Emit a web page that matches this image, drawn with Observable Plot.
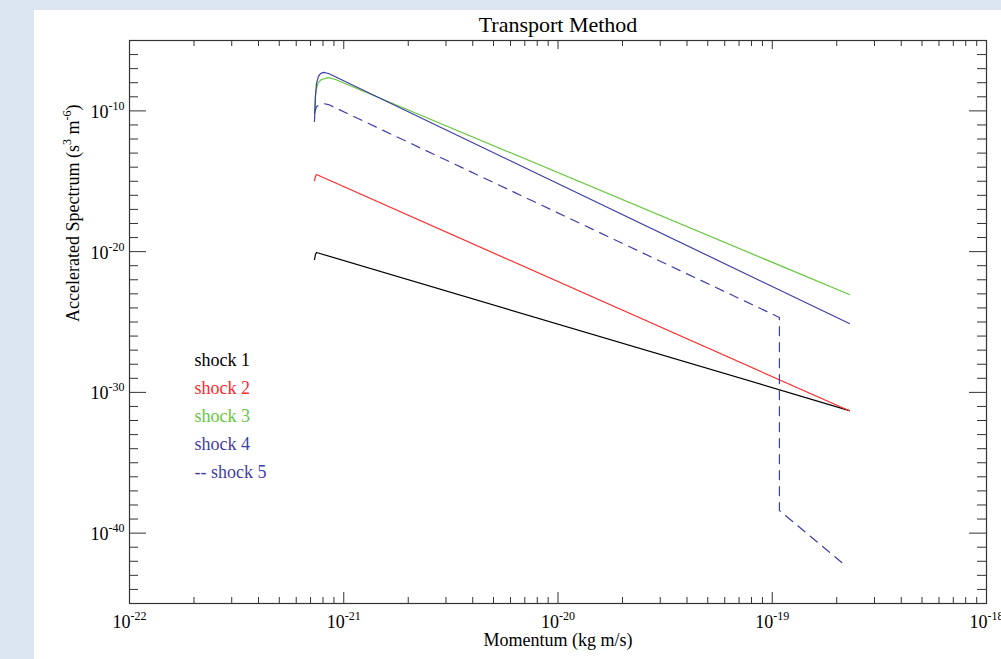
<!DOCTYPE html>
<html>
<head>
<meta charset="utf-8">
<script src="https://cdn.jsdelivr.net/npm/d3@7"></script>
<script src="https://cdn.jsdelivr.net/npm/@observablehq/plot@0.6"></script>
<style>
  html, body { margin: 0; padding: 0; }
  body { width: 1001px; height: 659px; background: #dce6f2; position: relative; overflow: hidden; }
  #panel { position: absolute; left: 34px; top: 10px; width: 967px; height: 649px; background: #ffffff; }
  #chart { position: absolute; left: 0; top: 0; }
  #chart svg { background: transparent; }
</style>
</head>
<body>
<div id="panel"></div>
<div id="chart"></div>
<script>
// ---- data ----
const title = "Transport Method";
const xLabel = "Momentum (kg m/s)";
const yLabel = "Accelerated Spectrum (s^3 m^-6)";

const xTickExponents = [-22, -21, -20, -19, -18];
const yTickExponents = [-10, -20, -30, -40];

const seriesNames = ["shock 1", "shock 2", "shock 3", "shock 4", "shock 5"];
const legendLabels = ["shock 1", "shock 2", "shock 3", "shock 4", "-- shock 5"];
const seriesColors = ["#000000", "#ff2a2a", "#66c83c", "#3f3fa8", "#3f3fa8"];

// momentum (kg m/s) and spectrum (s^3 m^-6) per series
const shock1Momentum = [7.30e-22, 7.38e-22, 7.46e-22, 2.29e-19];
const shock1Spectrum = [2.75e-21, 6.3e-21, 8.7e-21, 5.1e-32];

const shock2Momentum = [7.30e-22, 7.38e-22, 7.46e-22, 2.29e-19];
const shock2Spectrum = [1.12e-15, 2.2e-15, 3.0e-15, 4.9e-32];

const shock3Momentum = [7.30e-22, 7.38e-22, 7.46e-22, 7.62e-22, 7.87e-22, 8.49e-22, 9.15e-22, 2.29e-19];
const shock3Spectrum = [7.6e-11, 1.23e-9, 3.9e-9, 1.05e-8, 1.7e-8, 2.3e-8, 1.7e-8, 8.9e-24];

const shock4Momentum = [7.30e-22, 7.38e-22, 7.46e-22, 7.62e-22, 7.79e-22, 8.04e-22, 8.49e-22, 2.29e-19];
const shock4Spectrum = [1.78e-11, 1.2e-9, 8.7e-9, 2.8e-8, 4.5e-8, 5.4e-8, 4.5e-8, 7.8e-26];

const shock5Momentum = [7.30e-22, 7.46e-22, 7.70e-22, 8.04e-22, 8.49e-22, 1.08e-19, 1.08e-19, 2.22e-19];
const shock5Spectrum = [6.4e-11, 2.0e-10, 2.8e-10, 3.3e-10, 2.8e-10, 2.1e-25, 4.1e-39, 4.3e-43];

const seriesMomentum = [shock1Momentum, shock2Momentum, shock3Momentum, shock4Momentum, shock5Momentum];
const seriesSpectrum = [shock1Spectrum, shock2Spectrum, shock3Spectrum, shock4Spectrum, shock5Spectrum];

// ---- build ----
const FONT = "'Liberation Serif', 'Times New Roman', serif";
const marginLeft = 129, marginRight = 15, marginTop = 40, marginBottom = 56;
const W = 1001, H = 659;
const frameW = W - marginLeft - marginRight;
const frameH = H - marginTop - marginBottom;
const axisColor = "#333333";

const xMajor = xTickExponents.map(e => Math.pow(10, e));
const xMinor = [];
for (let e = -22; e < -18; e++) for (let k = 2; k <= 9; k++) xMinor.push(k * Math.pow(10, e));
const yMajor = yTickExponents.map(e => Math.pow(10, e));
const yMinor = [];
for (let e = -44; e <= -6; e++) if (e % 10 !== 0) yMinor.push(Math.pow(10, e));

const lineMarks = seriesNames.map((name, i) => {
  const rows = seriesMomentum[i].map((p, j) => ({p, f: seriesSpectrum[i][j]}));
  return Plot.line(rows, {
    x: "p", y: "f",
    stroke: seriesColors[i],
    strokeWidth: 1.2,
    strokeDasharray: i === 4 ? "9,7" : null
  });
});

const legendMarks = legendLabels.map((lab, i) =>
  Plot.text([lab], {
    text: d => d,
    frameAnchor: "top-left",
    dx: 65,
    dy: 325 + i * 28,
    lineAnchor: "bottom",
    textAnchor: "start",
    fill: seriesColors[i],
    fontSize: 18,
    fontFamily: FONT
  })
);

const chart = Plot.plot({
  width: W, height: H,
  marginLeft, marginRight, marginTop, marginBottom,
  style: {background: "transparent", fontFamily: FONT},
  x: {type: "log", domain: [1e-22, 1e-18], axis: null},
  y: {type: "log", domain: [1e-45, 1e-5], axis: null},
  marks: [
    // bottom ticks
    Plot.ruleX(xMajor, {x: d => d, insetTop: frameH - 11, stroke: axisColor}),
    Plot.ruleX(xMinor, {x: d => d, insetTop: frameH - 6, stroke: axisColor}),
    // top ticks
    Plot.ruleX(xMajor, {x: d => d, insetBottom: frameH - 9, stroke: axisColor}),
    Plot.ruleX(xMinor, {x: d => d, insetBottom: frameH - 6, stroke: axisColor}),
    // left ticks
    Plot.ruleY(yMajor, {y: d => d, insetRight: frameW - 17, stroke: axisColor}),
    Plot.ruleY(yMinor, {y: d => d, insetRight: frameW - 9, stroke: axisColor}),
    // right ticks
    Plot.ruleY(yMajor, {y: d => d, insetLeft: frameW - 17, stroke: axisColor}),
    Plot.ruleY(yMinor, {y: d => d, insetLeft: frameW - 9, stroke: axisColor}),
    Plot.frame({stroke: axisColor, strokeWidth: 1.2}),
    // tick labels
    Plot.text(xMajor, {
      x: d => d, text: d => "10^" + Math.round(Math.log10(d)),
      frameAnchor: "bottom", dy: 24, lineAnchor: "bottom", textAnchor: "middle",
      fontSize: 18, fontFamily: FONT, fill: "#000"
    }),
    Plot.text(yMajor, {
      y: d => d, text: d => "10^" + Math.round(Math.log10(d)),
      frameAnchor: "left", dx: -5, dy: 7, lineAnchor: "bottom", textAnchor: "end",
      fontSize: 18, fontFamily: FONT, fill: "#000"
    }),
    ...lineMarks,
    ...legendMarks,
    // title and axis labels
    Plot.text([title], {text: d => d, frameAnchor: "top", dy: -9, lineAnchor: "bottom",
      fontSize: 22, fontFamily: FONT, fill: "#000"}),
    Plot.text([xLabel], {text: d => d, frameAnchor: "bottom", dy: 42, lineAnchor: "bottom",
      fontSize: 18, fontFamily: FONT, fill: "#000"}),
    Plot.text([yLabel], {text: d => d, frameAnchor: "left", dx: -51, rotate: -90, lineAnchor: "bottom",
      fontSize: 18, fontFamily: FONT, fill: "#000"})
  ]
});

// turn "a^b" pieces into superscripts
d3.select(chart).selectAll("text").each(function() {
  const t = this.textContent;
  if (!t.includes("^")) return;
  const sel = d3.select(this);
  sel.text(null);
  const parts = t.split(/(\^-?\d+)/);
  let raised = false;
  parts.forEach(part => {
    if (!part) return;
    if (part.startsWith("^")) {
      sel.append("tspan").attr("font-size", 12).attr("dy", raised ? 0 : -8).text(part.slice(1));
      raised = true;
    } else {
      sel.append("tspan").attr("dy", raised ? 8 : 0).text(part);
      raised = false;
    }
  });
});

document.getElementById("chart").appendChild(chart);
</script>
</body>
</html>
